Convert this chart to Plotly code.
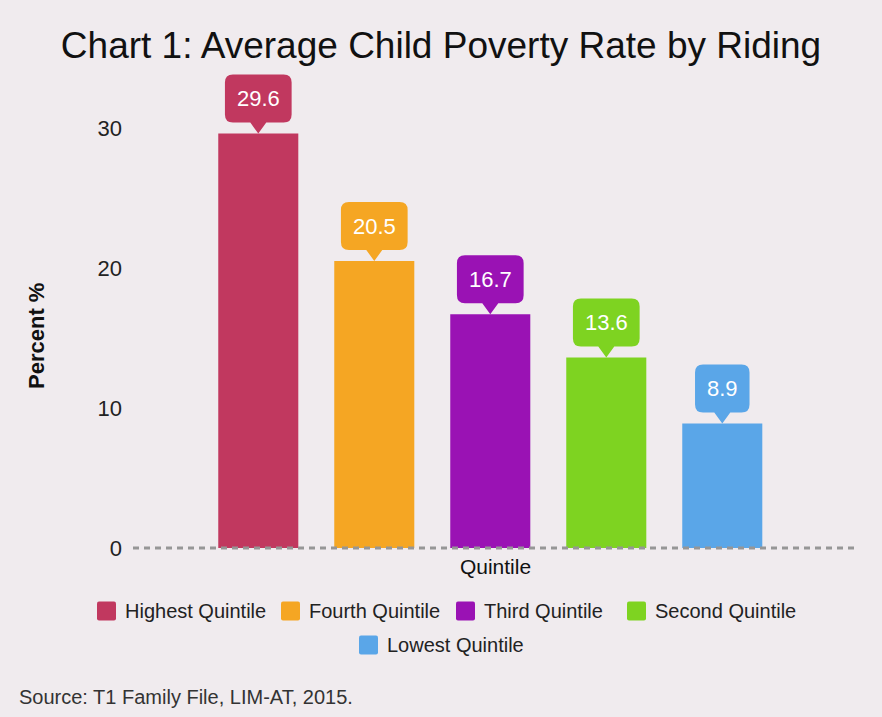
import plotly.graph_objects as go

# Average child poverty rate (%) by riding income quintile
quintiles = ["Highest Quintile", "Fourth Quintile", "Third Quintile",
             "Second Quintile", "Lowest Quintile"]
rates = [29.6, 20.5, 16.7, 13.6, 8.9]
colors = ["#C1385F", "#F5A623", "#9A12B4", "#7ED321", "#5AA6E8"]

y_ticks = [0, 10, 20, 30]

FONT = "Liberation Sans, Arial, Helvetica, sans-serif"
BG = "#F0EBEE"

W, H = 882, 717
M_L, M_R, M_T, M_B = 133, 24, 65, 169
PLOT_W = W - M_L - M_R
PLOT_H = H - M_T - M_B


def px_x(px):
    """Page pixel column -> paper x."""
    return (px - M_L) / PLOT_W


def px_y(py):
    """Page pixel row -> paper y."""
    return (H - M_B - py) / PLOT_H


fig = go.Figure()
for name, val, col in zip(quintiles, rates, colors):
    fig.add_trace(go.Bar(
        x=[name], y=[val], name=name, width=0.69,
        marker=dict(color=col, line=dict(width=0)),
        hoverinfo="x+y", showlegend=False,
    ))


def callout_path(label, tip=11, box_h=48, r=8, half_base=8):
    """Rounded speech-bubble outline in pixel offsets from the bar top."""
    digits = sum(c.isdigit() for c in label)
    dots = len(label) - digits
    w = 24 + 12.2 * digits + 6.1 * dots
    hw = w / 2
    y0, y1 = tip, tip + box_h
    return (
        f"M0,0 L{half_base},{y0} L{hw - r},{y0} Q{hw},{y0} {hw},{y0 + r} "
        f"L{hw},{y1 - r} Q{hw},{y1} {hw - r},{y1} L{-hw + r},{y1} "
        f"Q{-hw},{y1} {-hw},{y1 - r} L{-hw},{y0 + r} Q{-hw},{y0} {-hw + r},{y0} "
        f"L{-half_base},{y0} Z"
    )


shapes = []
annotations = []
for name, val, col in zip(quintiles, rates, colors):
    label = f"{val:.1f}"
    shapes.append(dict(
        type="path", xref="x", yref="y",
        xsizemode="pixel", ysizemode="pixel",
        xanchor=name, yanchor=val,
        path=callout_path(label),
        fillcolor=col, line=dict(width=0), layer="above",
    ))
    annotations.append(dict(
        x=name, y=val, xref="x", yref="y", text=label, showarrow=False,
        yshift=35, yanchor="middle",
        font=dict(family=FONT, size=22, color="white"),
    ))

# dashed baseline at zero (paper-referenced so the stroke is not clipped)
shapes.append(dict(
    type="line", xref="paper", yref="paper", x0=0, x1=1, y0=0, y1=0,
    line=dict(color="#969696", width=2.8, dash="6px,5px"), layer="above",
))

# legend: two centred rows of rounded swatches with labels
legend_slots = [(97, 611), (281, 611), (456, 611), (627, 611), (359, 645)]
SW = 19
for name, col, (lx, ly) in zip(quintiles, colors, legend_slots):
    shapes.append(dict(
        type="path", xref="paper", yref="paper",
        xsizemode="pixel", ysizemode="pixel",
        xanchor=px_x(lx), yanchor=px_y(ly),
        path=(f"M2,{SW/2} L{SW-2},{SW/2} Q{SW},{SW/2} {SW},{SW/2-2} "
              f"L{SW},{-SW/2+2} Q{SW},{-SW/2} {SW-2},{-SW/2} "
              f"L2,{-SW/2} Q0,{-SW/2} 0,{-SW/2+2} L0,{SW/2-2} Q0,{SW/2} 2,{SW/2} Z"),
        fillcolor=col, line=dict(width=0),
    ))
    annotations.append(dict(
        text=name, xref="paper", yref="paper",
        x=px_x(lx + 26), y=px_y(ly), xanchor="left", yanchor="middle",
        showarrow=False, font=dict(family=FONT, size=20, color="#222222"),
    ))

# y-axis title, centred on the 0-30 span
annotations.append(dict(
    text="<b>Percent %</b>", xref="paper", yref="paper",
    x=px_x(36), y=px_y(336), textangle=-90,
    xanchor="center", yanchor="middle", showarrow=False,
    font=dict(family=FONT, size=22, color="#111111"),
))

annotations.append(dict(
    text="Source: T1 Family File, LIM-AT, 2015.",
    xref="paper", yref="paper", x=px_x(17), y=px_y(697),
    xanchor="left", yanchor="middle", showarrow=False,
    font=dict(family=FONT, size=20, color="#333333"),
))

fig.update_layout(
    width=W, height=H,
    margin=dict(l=M_L, r=M_R, t=M_T, b=M_B),
    paper_bgcolor=BG, plot_bgcolor=BG,
    font=dict(family=FONT, color="#222222"),
    barmode="overlay",
    title=dict(
        text="Chart 1: Average Child Poverty Rate by Riding",
        x=0.5, xanchor="center", xref="container",
        y=1 - 45 / H, yanchor="middle", yref="container",
        font=dict(family=FONT, size=37, color="#111111"),
    ),
    xaxis=dict(
        type="category", categoryorder="array", categoryarray=quintiles,
        range=[-1.08, 5.17], showticklabels=False, showgrid=False,
        zeroline=False, showline=False, ticks="", automargin=False,
        title=dict(text="Quintile", standoff=11,
                   font=dict(family=FONT, size=21, color="#111111")),
    ),
    yaxis=dict(
        range=[0, (H - M_B - M_T) / 14], tickvals=y_ticks, showgrid=False,
        zeroline=False, showline=False, ticks="", automargin=False,
        ticklabelstandoff=10,
        tickfont=dict(family=FONT, size=22, color="#222222"),
    ),
    showlegend=False,
    shapes=shapes,
    annotations=annotations,
)

fig.write_html("out.html")
